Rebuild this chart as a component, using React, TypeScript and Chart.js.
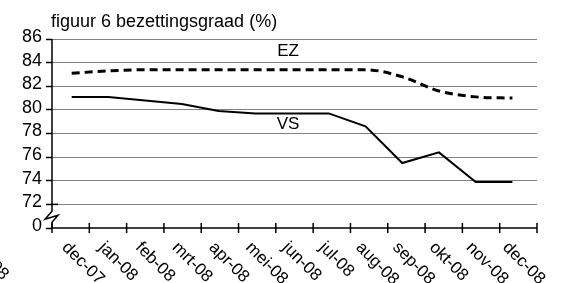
import React, { useEffect, useRef } from "react";
import { Chart, registerables } from "chart.js";

Chart.register(...registerables);

const categories = ["dec-07", "jan-08", "feb-08", "mrt-08", "apr-08", "mei-08", "jun-08", "jul-08", "aug-08", "sep-08", "okt-08", "nov-08", "dec-08"];
const ezValues = [83.1, 83.3, 83.4, 83.4, 83.4, 83.4, 83.4, 83.4, 83.4, 82.8, 81.6, 81.1, 81.0];
const vsValues = [81.1, 81.1, 80.8, 80.5, 79.9, 79.7, 79.7, 79.7, 78.6, 75.5, 76.4, 73.9, 73.9];
const yTicks = [70, 72, 74, 76, 78, 80, 82, 84, 86];
const yTickLabels = ["0", "72", "74", "76", "78", "80", "82", "84", "86"];
const seriesNames = ["EZ", "VS"];
const titleText = "figuur 6 bezettingsgraad (%)";
const strayText = "08";

const FONT = "'Liberation Sans', Arial, sans-serif";

export default function App() {
  const ref = useRef<HTMLCanvasElement>(null);

  useEffect(() => {
    document.body.style.margin = "0";
    const canvas = ref.current;
    if (!canvas) return;

    const overlay = {
      id: "overlay",
      afterDraw(chart: any) {
        const ctx = chart.ctx as CanvasRenderingContext2D;
        const xs = chart.scales.x;
        const xd = chart.scales.xd;
        const ys = chart.scales.y;
        const { left, right, top, bottom } = chart.chartArea;
        ctx.save();
        ctx.strokeStyle = "#000";
        ctx.lineWidth = 1.5;
        ctx.lineJoin = "miter";
        // x axis
        ctx.beginPath();
        ctx.moveTo(left, bottom);
        ctx.lineTo(right, bottom);
        ctx.stroke();
        for (let i = 0; i <= categories.length; i++) {
          const px = xs.getPixelForValue(i - 0.5);
          ctx.beginPath();
          ctx.moveTo(px, bottom - 5);
          ctx.lineTo(px, bottom + 5);
          ctx.stroke();
        }
        // broken y axis
        const y72 = ys.getPixelForValue(72);
        const mid = (y72 + bottom) / 2;
        ctx.beginPath();
        ctx.moveTo(left, top);
        ctx.lineTo(left, mid - 5);
        ctx.lineTo(left - 7, mid + 3);
        ctx.lineTo(left + 6, mid - 1);
        ctx.lineTo(left, mid + 6);
        ctx.lineTo(left, bottom);
        ctx.stroke();
        ctx.beginPath();
        ctx.moveTo(left, y72);
        ctx.lineTo(left + 6, y72);
        ctx.stroke();

        // x labels rotated
        ctx.fillStyle = "#000";
        ctx.font = `17px ${FONT}`;
        ctx.textAlign = "left";
        ctx.textBaseline = "top";
        categories.forEach((c, i) => {
          const px = xd.getPixelForValue(i);
          ctx.save();
          ctx.translate(px - 1, bottom + 11);
          ctx.rotate(Math.PI / 4);
          ctx.fillText(c, 0, 0);
          ctx.restore();
        });
        ctx.save();
        ctx.translate(-1.5, 258);
        ctx.rotate(Math.PI / 4);
        ctx.fillText(strayText, 0, 0);
        ctx.restore();

        // title
        ctx.textBaseline = "alphabetic";
        ctx.font = `18px ${FONT}`;
        ctx.fillText(titleText, left - 1, 26.5);

        // series labels
        ctx.font = `17px ${FONT}`;
        ctx.textAlign = "center";
        ctx.textBaseline = "middle";
        ctx.fillText(seriesNames[0], xd.getPixelForValue(5.89), ys.getPixelForValue(85.0));
        ctx.fillText(seriesNames[1], xd.getPixelForValue(5.89), ys.getPixelForValue(78.76));
        ctx.restore();
      },
    };

    const chart = new Chart(canvas, {
      type: "line",
      data: {
        labels: categories,
        datasets: [
          {
            label: seriesNames[0],
            data: ezValues.map((v, i) => ({ x: i, y: v })),
            xAxisID: "xd",
            yAxisID: "y",
            borderColor: "#000",
            borderWidth: 3,
            borderDash: [8, 5],
            pointRadius: 0,
            tension: 0.4,
            cubicInterpolationMode: "monotone",
            fill: false,
          },
          {
            label: seriesNames[1],
            data: vsValues.map((v, i) => ({ x: i, y: v })),
            xAxisID: "xd",
            yAxisID: "y",
            borderColor: "#000",
            borderWidth: 2,
            pointRadius: 0,
            tension: 0,
            fill: false,
          },
        ],
      },
      options: {
        animation: false,
        responsive: false,
        devicePixelRatio: 1,
        layout: { padding: { top: 39, right: 24, bottom: 55, left: 0 } },
        plugins: {
          legend: { display: false },
          title: { display: false },
          tooltip: { enabled: false },
        },
        scales: {
          x: {
            type: "category",
            position: "bottom",
            offset: true,
            grid: { display: false },
            ticks: { display: false },
            border: { display: false },
            afterFit(s: any) {
              s.height = 0;
            },
          },
          xd: {
            type: "linear",
            position: "bottom",
            display: false,
            min: -0.536,
            max: 12.669,
          },
          y: {
            type: "linear",
            position: "left",
            min: 70,
            max: 86,
            afterBuildTicks(s: any) {
              s.ticks = yTicks.map((v) => ({ value: v }));
            },
            ticks: {
              autoSkip: false,
              callback: (v: any) => {
                const idx = yTicks.indexOf(Number(v));
                return idx >= 0 ? yTickLabels[idx] : "";
              },
              font: { size: 18, family: FONT },
              color: "#000",
              padding: 4,
              labelOffset: -2,
            },
            grid: {
              color: (c: any) => (c.tick && c.tick.value === 70 ? "rgba(0,0,0,0)" : "#808080"),
              lineWidth: 1,
              tickColor: "#000",
              tickLength: 6,
              tickWidth: 1.5,
              drawTicks: true,
            },
            border: { display: false },
            afterFit(s: any) {
              s.width = 52;
            },
          },
        },
      },
      plugins: [overlay],
    } as any);

    return () => chart.destroy();
  }, []);

  return <canvas ref={ref} width={561} height={283} style={{ display: "block" }} />;
}
